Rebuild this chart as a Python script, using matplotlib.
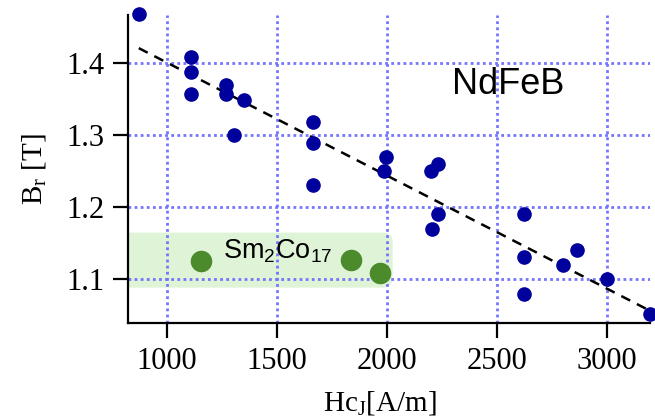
import numpy as np
import matplotlib.pyplot as plt
from matplotlib.patches import FancyBboxPatch

# NdFeB magnets: coercivity HcJ [A/m] vs remanence Br [T]
ndfeb_hc = [873, 1112, 1108, 1108, 1271, 1271, 1351, 1305, 1665, 1665, 1665,
            1995, 1986, 2230, 2198, 2233, 2203, 2623, 2623, 2623, 2865, 2799,
            3001, 3195]
ndfeb_br = [1.468, 1.408, 1.388, 1.357, 1.370, 1.357, 1.349, 1.300, 1.318,
            1.289, 1.230, 1.269, 1.250, 1.260, 1.250, 1.190, 1.169, 1.190,
            1.130, 1.079, 1.140, 1.119, 1.100, 1.051]

# Sm2Co17 magnets
smco_hc = [1155, 1835, 1968]
smco_br = [1.125, 1.127, 1.109]

# linear trend for NdFeB
fit_hc = [873, 3200]
fit_br = [1.421, 1.055]

blue = '#00009c'
green = '#4b8b2b'
band = '#dff3d6'
grid_col = '#7474ff'

fig = plt.figure(figsize=(6.55, 4.18), dpi=100)
ax = fig.add_axes([0.1954, 0.2266, 0.797, 0.7374])
ax.set_xlim(824, 3195)
ax.set_ylim(1.0384, 1.467)

ax.set_xticks([1000, 1500, 2000, 2500, 3000])
ax.set_yticks([1.1, 1.2, 1.3, 1.4])
ax.grid(True, color=grid_col, linestyle=(0, (1, 1.2)), linewidth=2)
ax.set_axisbelow(True)

for s in ['top', 'right']:
    ax.spines[s].set_visible(False)
for s in ['left', 'bottom']:
    ax.spines[s].set_linewidth(1.6)
ax.tick_params(direction='out', length=11, width=1.6, pad=6)
for lab in ax.get_xticklabels() + ax.get_yticklabels():
    lab.set_fontfamily('Liberation Serif')
    lab.set_fontsize(22)

# shaded band behind the Sm2Co17 group
px_x = 0.22015   # pixels per A/m
px_y = 719.0     # pixels per T
box = FancyBboxPatch((700, 1.088), 2026 - 700, 1.1645 - 1.088,
                     boxstyle='round,pad=0,rounding_size=45',
                     mutation_aspect=px_x / px_y,
                     facecolor=band, edgecolor='none', zorder=0.5)
ax.add_patch(box)

ax.plot(fit_hc, fit_br, color='black', linestyle=(0, (4, 3)), linewidth=1.8,
        zorder=2, clip_on=False)
ax.plot(ndfeb_hc, ndfeb_br, 'o', color=blue, markersize=9.5, zorder=3,
        clip_on=False)
ax.plot(smco_hc, smco_br, 'o', color=green, markersize=14.5, zorder=3,
        clip_on=False)

ax.text(2553, 1.357, 'NdFeB', family='Liberation Sans', fontsize=26,
        ha='center', va='baseline')
ax.text(1254, 1.129, r'Sm$_\mathregular{2}$Co$_\mathregular{17}$',
        family='Liberation Sans', fontsize=19.5, ha='left', va='baseline')

ax.set_xlabel(r'Hc$_\mathregular{J}$[A/m]', family='Liberation Serif',
              fontsize=21)
ax.set_ylabel(r'B$_\mathregular{r}$ [T]', family='Liberation Serif',
              fontsize=21)
ax.xaxis.set_label_coords(0.483, -0.215)
ax.yaxis.set_label_coords(-0.152, 0.5)

fig.savefig('out.png', dpi=100)
